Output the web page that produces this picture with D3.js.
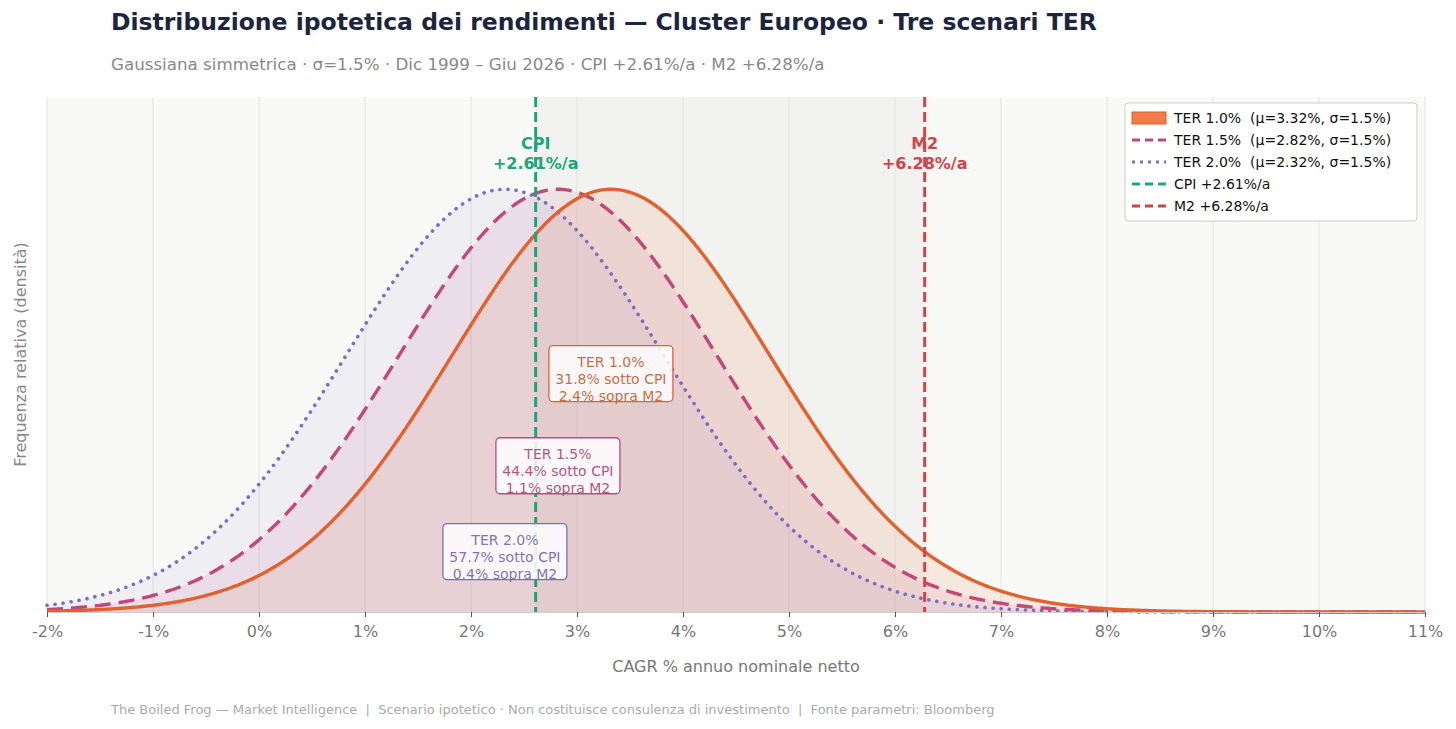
<!DOCTYPE html>
<html><head><meta charset="utf-8">
<script src="https://cdn.jsdelivr.net/npm/d3@7"></script>
<style>body{margin:0;background:#fff;font-family:"DejaVu Sans",sans-serif} text{white-space:pre}</style>
</head><body><svg id="c" width="1456" height="729"></svg>
<script>
const scenarios = ["TER 1.0%","TER 1.5%","TER 2.0%"];
const mus = [3.32, 2.82, 2.32];
const sigma = 1.5;
const pctBelowCPI = ["31.8%","44.4%","57.7%"];
const pctAboveM2 = ["2.4%","1.1%","0.4%"];
const cpi = 2.61, m2 = 6.28;
const xTicks = [-2,-1,0,1,2,3,4,5,6,7,8,9,10,11];
const colors = ["#e0622f","#c0487a","#7b6cc4"];
const fills = ["rgba(240,140,80,0.14)","rgba(200,80,130,0.10)","rgba(130,120,200,0.08)"];
const dashes = [null,"16,8","0.1,8"];
const boxY = [0.150,0.092,0.038];

const svg = d3.select("#c");
const L=47,R=1425,T=97,B=612;
const x = d3.scaleLinear().domain([-2,11]).range([L,R]);
const y = d3.scaleLinear().domain([0,0.324]).range([B,T]);
const pdf=(v,m)=>Math.exp(-0.5*((v-m)/sigma)**2)/(sigma*Math.sqrt(2*Math.PI));
const xs = d3.range(-2,11.0001,0.02);

svg.append("rect").attr("x",L).attr("y",T).attr("width",R-L).attr("height",B-T).attr("fill","#f9f9f7");
svg.append("rect").attr("x",x(cpi)).attr("y",T).attr("width",x(m2)-x(cpi)).attr("height",B-T).attr("fill","#f2f2f0");
svg.append("g").selectAll("line").data(xTicks).join("line")
 .attr("x1",d=>x(d)).attr("x2",d=>x(d)).attr("y1",T).attr("y2",B).attr("stroke","#e2e2dc").attr("stroke-width",1);

mus.forEach((m,i)=>{
 svg.append("path").datum(xs).attr("fill",fills[i])
  .attr("d",d3.area().x(d=>x(d)).y0(B).y1(d=>y(pdf(d,m))));
});
[2,1,0].forEach(i=>{
 svg.append("path").datum(xs).attr("fill","none").attr("stroke",colors[i]).attr("stroke-width",i==2?3.6:3.4)
  .attr("stroke-dasharray",dashes[i]).attr("stroke-linecap",i==2?"round":"butt")
  .attr("d",d3.line().x(d=>x(d)).y(d=>y(pdf(d,mus[i]))));
});
[[cpi,"#1aa67a","CPI"],[m2,"#d04545","M2"]].forEach(([v,c,n])=>{
 svg.append("line").attr("x1",x(v)).attr("x2",x(v)).attr("y1",T).attr("y2",B).attr("stroke",c).attr("stroke-width",3).attr("stroke-dasharray","10,5");
 const t=svg.append("text").attr("x",x(v)).attr("text-anchor","middle").attr("fill",c).attr("font-weight","bold").attr("font-size",16);
 t.append("tspan").attr("x",x(v)).attr("y",149).text(n);
 t.append("tspan").attr("x",x(v)).attr("y",169).text("+"+d3.format(".2f")(v)+"%/a");
});
mus.forEach((m,i)=>{
 const g=svg.append("g").attr("transform",`translate(${x(m)},${y(boxY[i])})`);
 g.append("rect").attr("x",-62).attr("y",-28).attr("width",124).attr("height",56).attr("rx",4)
  .attr("fill","rgba(255,255,255,0.85)").attr("stroke",colors[i]).attr("stroke-width",1.3);
 const lines=[scenarios[i],pctBelowCPI[i]+" sotto CPI",pctAboveM2[i]+" sopra M2"];
 lines.forEach((s,j)=>g.append("text").attr("y",-12+j*17+5).attr("text-anchor","middle").attr("font-size",14)
  .attr("fill",d3.color(colors[i]).darker(0.3)).attr("fill-opacity",0.9).text(s));
});
const ax=svg.append("g").attr("transform",`translate(0,${B})`).call(d3.axisBottom(x).tickValues(xTicks).tickFormat(d=>d+"%").tickSize(5));
ax.select(".domain").attr("stroke","#ccc");
ax.selectAll(".tick line").attr("stroke","#555");
ax.selectAll("text").attr("font-size",16).attr("fill","#777").attr("dy","1.05em").attr("font-family","DejaVu Sans");
svg.append("text").attr("x",(L+R)/2).attr("y",672).attr("text-anchor","middle").attr("font-size",16).attr("fill","#777").text("CAGR % annuo nominale netto");
svg.append("text").attr("transform",`translate(26,${(T+B)/2}) rotate(-90)`).attr("text-anchor","middle").attr("font-size",16).attr("fill","#888").text("Frequenza relativa (densità)");
svg.append("text").attr("x",111).attr("y",30).attr("font-size",23.5).attr("font-weight","bold").attr("fill","#1b2540").text("Distribuzione ipotetica dei rendimenti — Cluster Europeo · Tre scenari TER");
svg.append("text").attr("x",111).attr("y",70).attr("font-size",16.7).attr("fill","#888").text("Gaussiana simmetrica · σ=1.5% · Dic 1999 – Giu 2026 · CPI +2.61%/a · M2 +6.28%/a");
svg.append("text").attr("x",111).attr("y",714).attr("font-size",13).attr("fill","#aaa").text("The Boiled Frog — Market Intelligence  |  Scenario ipotetico · Non costituisce consulenza di investimento  |  Fonte parametri: Bloomberg");
const lg=svg.append("g").attr("transform","translate(1125,103)");
lg.append("rect").attr("width",292).attr("height",118).attr("rx",3).attr("fill","rgba(255,255,255,0.9)").attr("stroke","#ccc");
const items=[
 {t:"TER 1.0%  (μ=3.32%, σ=1.5%)",type:"patch",c:"#ef7c4a"},
 {t:"TER 1.5%  (μ=2.82%, σ=1.5%)",c:colors[1],d:"8,5"},
 {t:"TER 2.0%  (μ=2.32%, σ=1.5%)",c:colors[2],d:"3,5"},
 {t:"CPI +2.61%/a",c:"#1aa67a",d:"8,5"},
 {t:"M2 +6.28%/a",c:"#d04545",d:"8,5"}];
items.forEach((it,i)=>{
 const yy=15+i*22;
 if(it.type){lg.append("rect").attr("x",7).attr("y",yy-6).attr("width",34).attr("height",12).attr("fill",it.c).attr("stroke","#d86030");}
 else lg.append("line").attr("x1",7).attr("x2",41).attr("y1",yy).attr("y2",yy).attr("stroke",it.c).attr("stroke-width",3).attr("stroke-dasharray",it.d);
 lg.append("text").attr("x",49).attr("y",yy+5).attr("font-size",14).attr("fill","#111").text(it.t);
});
</script></body></html>
